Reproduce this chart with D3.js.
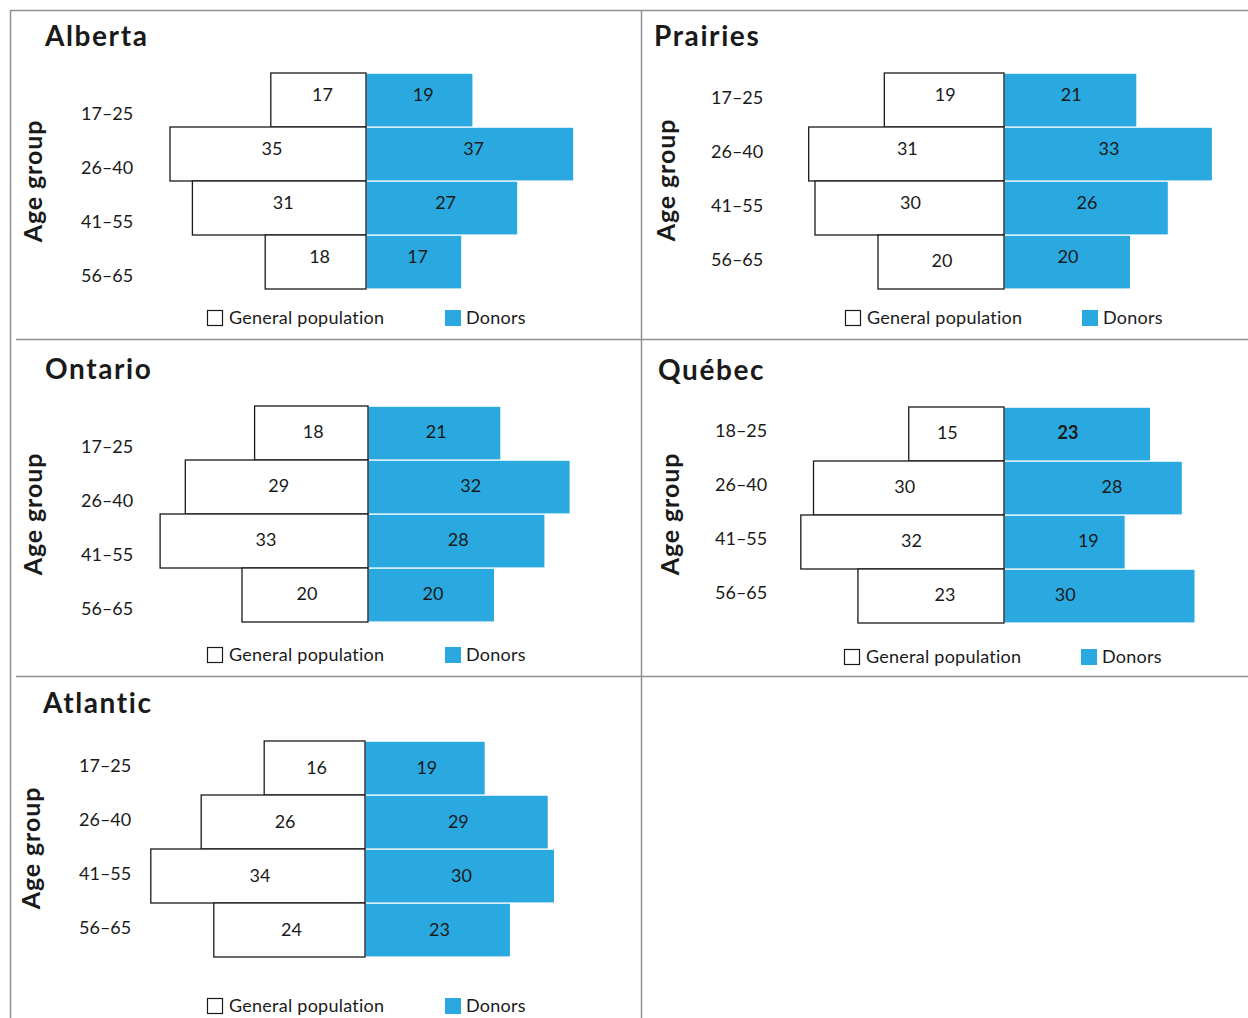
<!DOCTYPE html>
<html><head><meta charset="utf-8">
<script src="https://cdn.jsdelivr.net/npm/d3@7"></script>
<style>
body{margin:0;background:#fff}
svg{display:block}
text{font-family:Lato,"Noto Sans","DejaVu Sans",sans-serif;fill:#1a1a1a}
</style>
</head><body>
<svg id="c" width="1248" height="1018"></svg>
<script>
// ---- data ----
const regions = ["Alberta", "Prairies", "Ontario", "Québec", "Atlantic"];
const ageGroups = ["17–25", "26–40", "41–55", "56–65"];
const ageGroupsQuebec = ["18–25", "26–40", "41–55", "56–65"];
const generalAlberta = [17, 35, 31, 18];
const donorsAlberta = [19, 37, 27, 17];
const generalPrairies = [19, 31, 30, 20];
const donorsPrairies = [21, 33, 26, 20];
const generalOntario = [18, 29, 33, 20];
const donorsOntario = [21, 32, 28, 20];
const generalQuebec = [15, 30, 32, 23];
const donorsQuebec = [23, 28, 19, 30];
const generalAtlantic = [16, 26, 34, 24];
const donorsAtlantic = [19, 29, 30, 23];
const legendLabels = ["General population", "Donors"];
const axisTitle = "Age group";

// ---- build panel table ----
const panelData = [
  {name: regions[0], groups: ageGroups, general: generalAlberta, donors: donorsAlberta},
  {name: regions[1], groups: ageGroups, general: generalPrairies, donors: donorsPrairies},
  {name: regions[2], groups: ageGroups, general: generalOntario, donors: donorsOntario},
  {name: regions[3], groups: ageGroupsQuebec, general: generalQuebec, donors: donorsQuebec},
  {name: regions[4], groups: ageGroups, general: generalAtlantic, donors: donorsAtlantic}
];

// ---- layout (positions/styles only) ----
const layout = [
  {title:[45,46], axis:[42,181], catX:81, catDy:14, center:366, unit:5.6, top:73, valDy:-5, valDx:4, legend:[207,445], legendY:318},
  {title:[654,46], axis:[675,180], catX:711, catDy:-2, center:1004, unit:6.3, top:73, valDy:-5, valDx:1, legend:[845,1082], legendY:318,
    genDy:[0,0,0,4]},
  {title:[45,379], axis:[42,514], catX:81, catDy:14, center:368, unit:6.3, top:406, valDy:-1, valDx:2, legend:[207,445], legendY:655},
  {title:[658,380], axis:[679,514], catX:715, catDy:-3, center:1004, unit:6.35, top:407, valDy:-1, valDx:0, legend:[844,1081], legendY:657,
    genShift:[-9,-4,9,14], donShift:[-9,19,24,-34], boldDonor:[0]},
  {title:[43,713], axis:[40,848], catX:79, catDy:-2, center:365, unit:6.3, top:741, valDy:0, valDx:2, legend:[207,445], legendY:1006}
];

const BLUE = "#29a9e0";
const GRID = "#8f8f8f";
const svg = d3.select("#c");

// frame lines
const g0 = svg.append("g").attr("stroke", GRID).attr("stroke-width", 1.5);
g0.append("line").attr("x1", 10).attr("x2", 1248).attr("y1", 10.5).attr("y2", 10.5);
g0.append("line").attr("x1", 10.5).attr("x2", 10.5).attr("y1", 10).attr("y2", 1018);
g0.append("line").attr("x1", 641.5).attr("x2", 641.5).attr("y1", 10).attr("y2", 1018);
g0.append("line").attr("x1", 16).attr("x2", 1248).attr("y1", 339.5).attr("y2", 339.5);
g0.append("line").attr("x1", 16).attr("x2", 1248).attr("y1", 676.5).attr("y2", 676.5);

panelData.forEach((p, i) => {
  const L = layout[i];
  const g = svg.append("g");
  const x = d3.scaleLinear().domain([-40, 40]).range([L.center - 40 * L.unit, L.center + 40 * L.unit]);
  const y = d3.scaleBand().domain(p.groups).range([L.top, L.top + 216]).padding(0);
  const bw = y.bandwidth();

  // title
  g.append("text").attr("x", L.title[0]).attr("y", L.title[1])
    .attr("font-size", 28).attr("font-weight", 700).attr("letter-spacing", 1.6).text(p.name);

  // axis title
  g.append("text").attr("transform", `translate(${L.axis[0]},${L.axis[1]}) rotate(-90)`)
    .attr("text-anchor", "middle").attr("font-size", 25).attr("font-weight", 700)
    .attr("letter-spacing", 0.9).text(axisTitle);

  // category labels
  g.selectAll(".cat").data(p.groups).enter().append("text")
    .attr("x", L.catX).attr("y", d => y(d) + bw / 2 + L.catDy).attr("dy", "0.35em")
    .attr("font-size", 18).text(d => d);

  const rows = p.groups.map((grp, k) => ({grp, k, gen: p.general[k], don: p.donors[k]}));

  // donor bars
  g.selectAll(".don").data(rows).enter().append("rect")
    .attr("x", L.center + 0.5).attr("y", d => y(d.grp) + 0.8)
    .attr("width", d => x(d.don) - L.center - 0.5).attr("height", bw - 1.4)
    .attr("fill", BLUE);

  // general population bars
  g.selectAll(".gen").data(rows).enter().append("rect")
    .attr("x", d => x(-d.gen)).attr("y", d => y(d.grp))
    .attr("width", d => L.center - x(-d.gen)).attr("height", bw)
    .attr("fill", "#fff").attr("stroke", "#1a1a1a").attr("stroke-width", 1.3);

  // value labels
  const gs = L.genShift || [0,0,0,0];
  const ds = L.donShift || [0,0,0,0];
  const gd = L.genDy || [0,0,0,0];
  const bold = L.boldDonor || [];
  g.selectAll(".gl").data(rows).enter().append("text")
    .attr("x", d => (x(-d.gen) + L.center) / 2 + L.valDx + gs[d.k])
    .attr("y", d => y(d.grp) + bw / 2 + L.valDy + gd[d.k]).attr("dy", "0.35em")
    .attr("text-anchor", "middle").attr("font-size", 18).text(d => d.gen);
  g.selectAll(".dl").data(rows).enter().append("text")
    .attr("x", d => (x(d.don) + L.center) / 2 + L.valDx + ds[d.k])
    .attr("y", d => y(d.grp) + bw / 2 + L.valDy).attr("dy", "0.35em")
    .attr("text-anchor", "middle").attr("font-size", 18)
    .attr("font-weight", d => bold.includes(d.k) ? 700 : 400).text(d => d.don);

  // legend
  const lg = g.append("g");
  lg.append("rect").attr("x", L.legend[0] + 0.5).attr("y", L.legendY - 7.5).attr("width", 15).attr("height", 15)
    .attr("fill", "#fff").attr("stroke", "#1a1a1a").attr("stroke-width", 1.2);
  lg.append("text").attr("x", L.legend[0] + 22).attr("y", L.legendY).attr("dy", "0.35em")
    .attr("font-size", 18).attr("letter-spacing", 0.25).text(legendLabels[0]);
  lg.append("rect").attr("x", L.legend[1]).attr("y", L.legendY - 8).attr("width", 16).attr("height", 16)
    .attr("fill", BLUE);
  lg.append("text").attr("x", L.legend[1] + 21).attr("y", L.legendY).attr("dy", "0.35em")
    .attr("font-size", 18).attr("letter-spacing", 0.25).text(legendLabels[1]);
});
</script>
</body></html>
